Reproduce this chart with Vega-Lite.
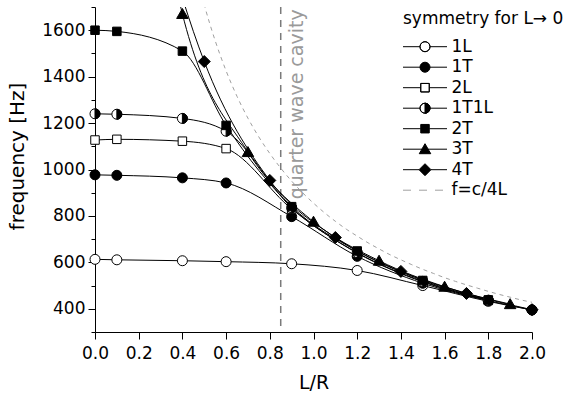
{
  "$schema": "https://vega.github.io/schema/vega-lite/v6.json",
  "width": 437,
  "height": 325,
  "autosize": {"type": "none"},
  "padding": {"left": 95, "top": 7, "right": 42, "bottom": 66},
  "background": "white",
  "config": {
    "view": {"stroke": null},
    "font": "DejaVu Sans",
    "axis": {"labelFont": "DejaVu Sans", "titleFont": "DejaVu Sans", "labelColor": "black", "titleColor": "black", "domainColor": "black", "tickColor": "black", "titleFontWeight": "normal", "grid": false},
    "legend": {"labelFont": "DejaVu Sans", "titleFont": "DejaVu Sans", "labelColor": "black", "titleColor": "black", "titleFontWeight": "normal"}
  },
  "datasets": {
    "curves": [
      {"s": "1L", "x": 0, "y": 613}, {"s": "1L", "x": 0.1, "y": 611}, {"s": "1L", "x": 0.4, "y": 607}, {"s": "1L", "x": 0.6, "y": 603}, {"s": "1L", "x": 0.9, "y": 594}, {"s": "1L", "x": 1.2, "y": 565}, {"s": "1L", "x": 1.5, "y": 500}, {"s": "1L", "x": 1.8, "y": 432}, {"s": "1L", "x": 2.0, "y": 395},
      {"s": "1T", "x": 0, "y": 977}, {"s": "1T", "x": 0.1, "y": 975}, {"s": "1T", "x": 0.4, "y": 964}, {"s": "1T", "x": 0.6, "y": 942}, {"s": "1T", "x": 0.9, "y": 797}, {"s": "1T", "x": 1.2, "y": 626}, {"s": "1T", "x": 1.5, "y": 510}, {"s": "1T", "x": 1.8, "y": 435}, {"s": "1T", "x": 2.0, "y": 395},
      {"s": "2L", "x": 0, "y": 1127}, {"s": "2L", "x": 0.1, "y": 1130}, {"s": "2L", "x": 0.4, "y": 1122}, {"s": "2L", "x": 0.6, "y": 1090}, {"s": "2L", "x": 0.9, "y": 830}, {"s": "2L", "x": 1.2, "y": 640}, {"s": "2L", "x": 1.5, "y": 516}, {"s": "2L", "x": 1.8, "y": 436},
      {"s": "1T1L", "x": 0, "y": 1240}, {"s": "1T1L", "x": 0.1, "y": 1238}, {"s": "1T1L", "x": 0.4, "y": 1220}, {"s": "1T1L", "x": 0.6, "y": 1165}, {"s": "1T1L", "x": 0.9, "y": 835}, {"s": "1T1L", "x": 1.2, "y": 642}, {"s": "1T1L", "x": 1.5, "y": 518}, {"s": "1T1L", "x": 1.8, "y": 437},
      {"s": "2T", "x": 0, "y": 1600}, {"s": "2T", "x": 0.1, "y": 1595}, {"s": "2T", "x": 0.4, "y": 1510}, {"s": "2T", "x": 0.6, "y": 1190}, {"s": "2T", "x": 0.9, "y": 840}, {"s": "2T", "x": 1.2, "y": 649}, {"s": "2T", "x": 1.5, "y": 522}, {"s": "2T", "x": 1.8, "y": 438},
      {"s": "3T", "x": 0.3, "y": 2100}, {"s": "3T", "x": 0.4, "y": 1670}, {"s": "3T", "x": 0.7, "y": 1075}, {"s": "3T", "x": 1.0, "y": 775}, {"s": "3T", "x": 1.3, "y": 607}, {"s": "3T", "x": 1.6, "y": 495}, {"s": "3T", "x": 1.9, "y": 420},
      {"s": "4T", "x": 0.3, "y": 2050}, {"s": "4T", "x": 0.5, "y": 1465}, {"s": "4T", "x": 0.8, "y": 953}, {"s": "4T", "x": 1.1, "y": 707}, {"s": "4T", "x": 1.4, "y": 561}, {"s": "4T", "x": 1.7, "y": 466}, {"s": "4T", "x": 2.0, "y": 396},
      {"s": "f=c/4L", "x": 0.48, "y": 1781}, {"s": "f=c/4L", "x": 0.5, "y": 1710}, {"s": "f=c/4L", "x": 0.55, "y": 1555}, {"s": "f=c/4L", "x": 0.6, "y": 1425}, {"s": "f=c/4L", "x": 0.65, "y": 1315}, {"s": "f=c/4L", "x": 0.7, "y": 1221}, {"s": "f=c/4L", "x": 0.75, "y": 1140}, {"s": "f=c/4L", "x": 0.8, "y": 1069}, {"s": "f=c/4L", "x": 0.85, "y": 1006}, {"s": "f=c/4L", "x": 0.9, "y": 950}, {"s": "f=c/4L", "x": 0.95, "y": 900}, {"s": "f=c/4L", "x": 1.0, "y": 855}, {"s": "f=c/4L", "x": 1.05, "y": 814}, {"s": "f=c/4L", "x": 1.1, "y": 777}, {"s": "f=c/4L", "x": 1.15, "y": 743}, {"s": "f=c/4L", "x": 1.2, "y": 713}, {"s": "f=c/4L", "x": 1.25, "y": 684}, {"s": "f=c/4L", "x": 1.3, "y": 658}, {"s": "f=c/4L", "x": 1.35, "y": 633}, {"s": "f=c/4L", "x": 1.4, "y": 611}, {"s": "f=c/4L", "x": 1.45, "y": 590}, {"s": "f=c/4L", "x": 1.5, "y": 570}, {"s": "f=c/4L", "x": 1.55, "y": 552}, {"s": "f=c/4L", "x": 1.6, "y": 534}, {"s": "f=c/4L", "x": 1.65, "y": 518}, {"s": "f=c/4L", "x": 1.7, "y": 503}, {"s": "f=c/4L", "x": 1.75, "y": 489}, {"s": "f=c/4L", "x": 1.8, "y": 475}, {"s": "f=c/4L", "x": 1.85, "y": 462}, {"s": "f=c/4L", "x": 1.9, "y": 450}, {"s": "f=c/4L", "x": 1.95, "y": 438}, {"s": "f=c/4L", "x": 2.0, "y": 428}
    ],
    "cavity": [{"x": 0.85}],
    "note": [{"x": 0.925, "y": 1690, "t": "quarter wave cavity"}]
  },
  "resolve": {"axis": {"y": "independent"}},
  "layer": [
    {
      "layer": [
        {
          "data": {"name": "curves"}, "transform": [{"filter": {"field": "s", "equal": "f=c/4L"}}],
          "mark": {"type": "line", "interpolate": "monotone", "stroke": "#a0a0a0", "strokeWidth": 1, "strokeDash": [4, 4], "clip": true},
          "encoding": {
            "x": {"field": "x", "type": "quantitative", "scale": {"domain": [0, 2], "nice": false, "zero": false},
              "axis": {"title": "L/R", "values": [0, 0.1, 0.2, 0.3, 0.4, 0.5, 0.6, 0.7, 0.8, 0.9, 1.0, 1.1, 1.2, 1.3, 1.4, 1.5, 1.6, 1.7, 1.8, 1.9, 2.0], "format": ".1f",
                "labelExpr": "round(datum.value*10) % 2 === 0 ? datum.label : ''",
                "tickSize": {"condition": {"test": "round(datum.value*10) % 2 === 0", "value": 7}, "value": 4},
                "labelFontSize": 17, "titleFontSize": 19, "labelPadding": 6, "titlePadding": 12, "labelOverlap": false, "labelFlush": false, "domainWidth": 1, "tickWidth": 1}},
            "y": {"field": "y", "type": "quantitative", "scale": {"domain": [300, 1700], "nice": false, "zero": false},
              "axis": {"orient": "left", "title": "frequency [Hz]", "values": [400, 600, 800, 1000, 1200, 1400, 1600], "format": ".0f",
                "tickSize": 7, "labelFontSize": 17, "titleFontSize": 20, "labelPadding": 3, "labelOverlap": false, "labelFlush": false,
                "titleAngle": -90, "titleX": -78, "titleY": 149, "titleBaseline": "middle", "titleAlign": "center", "domainWidth": 1, "tickWidth": 1}}
          }
        },
        {
          "data": {"name": "cavity"},
          "mark": {"type": "rule", "stroke": "#7a7a7a", "strokeWidth": 1.5, "strokeDash": [7, 6]},
          "encoding": {"x": {"field": "x", "type": "quantitative"}}
        },
        {
          "data": {"name": "note"},
          "mark": {"type": "text", "angle": 270, "align": "right", "baseline": "middle", "font": "DejaVu Sans", "fontSize": 19, "color": "#9a9a9a"},
          "encoding": {"x": {"field": "x", "type": "quantitative"}, "y": {"field": "y", "type": "quantitative"}, "text": {"field": "t"}}
        },
        {
          "data": {"name": "curves"}, "transform": [{"filter": "datum.s !== 'f=c/4L'"}],
          "mark": {"type": "line", "interpolate": "monotone", "stroke": "black", "strokeWidth": 1, "clip": true},
          "encoding": {"x": {"field": "x", "type": "quantitative"}, "y": {"field": "y", "type": "quantitative"}, "detail": {"field": "s"}}
        },
        {
          "data": {"name": "curves"}, "transform": [{"filter": "datum.s === '1L' && datum.y <= 1700"}],
          "mark": {"type": "point", "shape": "M-1,0A1,1 0 1,1 1,0A1,1 0 1,1 -1,0Z", "size": 100, "filled": true, "fill": "white", "stroke": "black", "strokeWidth": 1, "opacity": 1},
          "encoding": {"x": {"field": "x", "type": "quantitative"}, "y": {"field": "y", "type": "quantitative"}}
        },
        {
          "data": {"name": "curves"}, "transform": [{"filter": "datum.s === '1T' && datum.y <= 1700"}],
          "mark": {"type": "point", "shape": "M-1,0A1,1 0 1,1 1,0A1,1 0 1,1 -1,0Z", "size": 100, "filled": true, "fill": "black", "stroke": "black", "strokeWidth": 1, "opacity": 1},
          "encoding": {"x": {"field": "x", "type": "quantitative"}, "y": {"field": "y", "type": "quantitative"}}
        },
        {
          "data": {"name": "curves"}, "transform": [{"filter": "datum.s === '2L' && datum.y <= 1700"}],
          "mark": {"type": "point", "shape": "M-0.85,-0.85H0.85V0.85H-0.85Z", "size": 100, "filled": true, "fill": "white", "stroke": "black", "strokeWidth": 1, "opacity": 1},
          "encoding": {"x": {"field": "x", "type": "quantitative"}, "y": {"field": "y", "type": "quantitative"}}
        },
        {
          "data": {"name": "curves"}, "transform": [{"filter": "datum.s === '1T1L' && datum.y <= 1700"}],
          "mark": {"type": "point", "shape": "M-1,0A1,1 0 1,1 1,0A1,1 0 1,1 -1,0Z", "size": 100, "filled": true, "fill": "white", "stroke": "black", "strokeWidth": 1, "opacity": 1},
          "encoding": {"x": {"field": "x", "type": "quantitative"}, "y": {"field": "y", "type": "quantitative"}}
        },
        {
          "data": {"name": "curves"}, "transform": [{"filter": "datum.s === '1T1L' && datum.y <= 1700"}],
          "mark": {"type": "point", "shape": "M0,-1A1,1 0 0,1 0,1Z", "size": 100, "filled": true, "fill": "black", "stroke": "black", "strokeWidth": 1, "opacity": 1},
          "encoding": {"x": {"field": "x", "type": "quantitative"}, "y": {"field": "y", "type": "quantitative"}}
        },
        {
          "data": {"name": "curves"}, "transform": [{"filter": "datum.s === '2T' && datum.y <= 1700"}],
          "mark": {"type": "point", "shape": "M-0.85,-0.85H0.85V0.85H-0.85Z", "size": 100, "filled": true, "fill": "black", "stroke": "black", "strokeWidth": 1, "opacity": 1},
          "encoding": {"x": {"field": "x", "type": "quantitative"}, "y": {"field": "y", "type": "quantitative"}}
        },
        {
          "data": {"name": "curves"}, "transform": [{"filter": "datum.s === '3T' && datum.y <= 1700"}],
          "mark": {"type": "point", "shape": "M0,-1.1L1.15,0.9H-1.15Z", "size": 100, "filled": true, "fill": "black", "stroke": "black", "strokeWidth": 1, "opacity": 1},
          "encoding": {"x": {"field": "x", "type": "quantitative"}, "y": {"field": "y", "type": "quantitative"}}
        },
        {
          "data": {"name": "curves"}, "transform": [{"filter": "datum.s === '4T' && datum.y <= 1700"}],
          "mark": {"type": "point", "shape": "M0,-1.2L1.2,0L0,1.2L-1.2,0Z", "size": 100, "filled": true, "fill": "black", "stroke": "black", "strokeWidth": 1, "opacity": 1},
          "encoding": {"x": {"field": "x", "type": "quantitative"}, "y": {"field": "y", "type": "quantitative"}}
        },
        {
          "data": {"name": "curves"},
          "mark": {"type": "point", "size": 100, "filled": true, "fill": "black", "strokeWidth": 1, "opacity": 0},
          "encoding": {
            "x": {"field": "x", "type": "quantitative"},
            "y": {"field": "y", "type": "quantitative"},
            "shape": {"field": "s", "type": "nominal",
              "scale": {"domain": ["1L", "1T", "2L", "1T1L", "2T", "3T", "4T", "f=c/4L"],
                "range": [
                  "M-4.4,0H-1M1,0H4.4M-1,0A1,1 0 1,0 1,0A1,1 0 1,0 -1,0M-1,0A1,1 0 1,1 1,0A1,1 0 1,1 -1,0",
                  "M-4.4,0H-1M1,0H4.4M-1,0A1,1 0 1,1 1,0A1,1 0 1,1 -1,0Z",
                  "M-4.4,0H-0.85M0.85,0H4.4M-0.85,-0.85H0.85V0.85H-0.85ZM-0.85,-0.85V0.85H0.85V-0.85Z",
                  "M-4.4,0H-1M1,0H4.4M-1,0A1,1 0 1,0 1,0A1,1 0 1,0 -1,0M-1,0A1,1 0 1,1 1,0A1,1 0 1,1 -1,0M0,-1A1,1 0 0,1 0,1Z",
                  "M-4.4,0H-0.85M0.85,0H4.4M-0.85,-0.85H0.85V0.85H-0.85Z",
                  "M-4.4,0H-0.6M0.6,0H4.4M0,-1.1L1.15,0.9H-1.15Z",
                  "M-4.4,0H-1.2M1.2,0H4.4M0,-1.2L1.2,0L0,1.2L-1.2,0Z",
                  "M-4.4,0H-2.8M-1.2,0H0.4M2,0H3.6"
                ]},
              "legend": {"title": "symmetry for L\u2192 0", "orient": "none", "legendX": 308, "legendY": 3.6, "padding": 0,
                "symbolOffset": 13.5, "labelOffset": 18, "rowPadding": 2.5, "titlePadding": 10.6, "symbolSize": 100, "symbolStrokeWidth": 1, "symbolFillColor": "black", "symbolOpacity": 1,
                "labelFontSize": 17, "titleFontSize": 17, "titleLimit": 400, "labelLimit": 200}},
            "stroke": {"field": "s", "type": "nominal",
              "scale": {"domain": ["1L", "1T", "2L", "1T1L", "2T", "3T", "4T", "f=c/4L"], "range": ["black", "black", "black", "black", "black", "black", "black", "#a0a0a0"]},
              "legend": {"title": "symmetry for L\u2192 0", "orient": "none", "legendX": 308, "legendY": 3.6, "padding": 0,
                "symbolOffset": 13.5, "labelOffset": 18, "rowPadding": 2.5, "titlePadding": 10.6, "symbolSize": 100, "symbolStrokeWidth": 1, "symbolFillColor": "black", "symbolOpacity": 1,
                "labelFontSize": 17, "titleFontSize": 17, "titleLimit": 400, "labelLimit": 200}}
          }
        }
      ]
    },
    {
      "data": {"name": "cavity"},
      "mark": {"type": "point", "opacity": 0},
      "encoding": {
        "x": {"field": "x", "type": "quantitative"},
        "y": {"datum": 1000, "type": "quantitative", "scale": {"domain": [300, 1700], "nice": false, "zero": false},
          "axis": {"orient": "left", "title": null, "values": [300, 500, 700, 900, 1100, 1300, 1500, 1700], "labels": false, "domain": false, "tickSize": 4, "tickWidth": 1}}
      }
    }
  ]
}
